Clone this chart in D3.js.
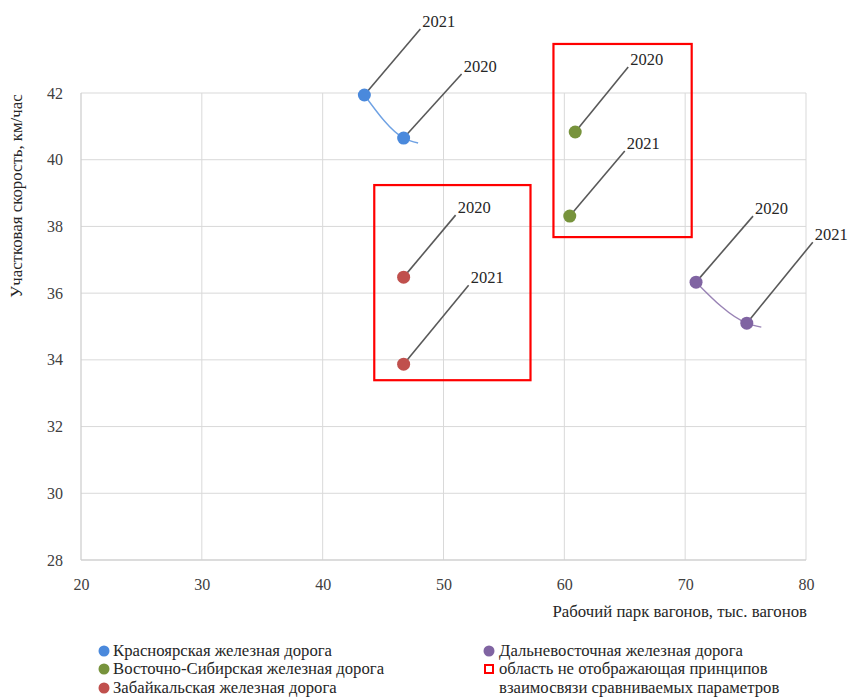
<!DOCTYPE html>
<html><head><meta charset="utf-8">
<script src="https://cdn.jsdelivr.net/npm/d3@7"></script>
<style>body{margin:0;background:#fff}svg{display:block}
svg text{font-family:"Liberation Serif","Times New Roman",Times,serif !important;}
</style>
</head><body>
<svg id="c" width="850" height="698"></svg>
<script>
// ---- data ----
const railways = ["Красноярская железная дорога","Восточно-Сибирская железная дорога","Забайкальская железная дорога","Дальневосточная железная дорога"];
const colors = ["#4A89DC","#77933C","#C0504D","#8064A2"];
const years = ["2020","2021"];
const park2020 = [46.7, 60.9, 46.7, 70.9];   // рабочий парк, тыс. вагонов
const park2021 = [43.45, 60.45, 46.7, 75.1];
const speed2020 = [40.65, 40.83, 36.48, 36.33]; // участковая скорость, км/ч
const speed2021 = [41.94, 38.31, 33.87, 35.1];
// trailing end of the smoothed connector lines (only for the two roads with curves)
const curveTail = [[47.9, 40.5], null, null, [76.3, 34.98]];
// red highlight areas [x0, x1, y0, y1] in data units
const areas = [[59.1, 70.54, 37.68, 43.47],[44.27, 57.2, 33.39, 39.24]];
const xTicks = [20,30,40,50,60,70,80];
const yTicks = [28,30,32,34,36,38,40,42];
const xTitle = "Рабочий парк вагонов, тыс. вагонов";
const yTitle = "Участковая скорость, км/час";
const areaLegend = ["область не отображающая принципов","взаимосвязи сравниваемых параметров"];
// leader-line offsets (px) for labels: [road][yearIndex] -> [dx, dy]
const labelOffsets = [[[58,-64],[56,-66]],[[53,-65],[55,-65]],[[52,-62],[65,-79]],[[57,-66],[66,-81]]];

const svg = d3.select("#c");
const font = "Liberation Serif";
const x = d3.scaleLinear().domain([20,80]).range([81,806]);
const y = d3.scaleLinear().domain([28,42]).range([560,93]);

// gridlines
svg.append("g").selectAll("line").data(yTicks.filter(d=>d>28)).join("line")
  .attr("x1",x(20)).attr("x2",x(80)).attr("y1",d=>y(d)).attr("y2",d=>y(d))
  .attr("stroke","#d9d9d9").attr("stroke-width",1);
svg.append("g").selectAll("line").data(xTicks.filter(d=>d>20)).join("line")
  .attr("x1",d=>x(d)).attr("x2",d=>x(d)).attr("y1",y(28)).attr("y2",y(42))
  .attr("stroke","#d9d9d9").attr("stroke-width",1);
// axes lines
svg.append("line").attr("x1",x(20)).attr("x2",x(20)).attr("y1",y(28)).attr("y2",y(42)).attr("stroke","#d0d0d0").attr("stroke-width",1.3);
svg.append("line").attr("x1",x(20)).attr("x2",x(80)).attr("y1",y(28)).attr("y2",y(28)).attr("stroke","#d0d0d0").attr("stroke-width",1.3);

// tick labels via axes
const xAxis = svg.append("g").attr("transform",`translate(0,${y(28)})`)
  .call(d3.axisBottom(x).tickValues(xTicks).tickSize(0).tickPadding(19));
const yAxis = svg.append("g").attr("transform",`translate(${x(20)},0)`)
  .call(d3.axisLeft(y).tickValues(yTicks).tickSize(0).tickPadding(18));
[xAxis,yAxis].forEach(a=>{
  a.select(".domain").remove();
  a.attr("font-family",font);
  a.selectAll("text").attr("font-size",16).attr("fill","#404040");
});

// axis titles
svg.append("text").attr("x",807).attr("y",617).attr("text-anchor","end")
  .attr("font-size",16.8).attr("fill","#262626").text(xTitle);
svg.append("text").attr("transform","translate(22,196) rotate(-90)").attr("text-anchor","middle")
  .attr("font-size",16.8).attr("fill","#262626").text(yTitle);

// red areas
svg.append("g").selectAll("rect").data(areas).join("rect")
  .attr("x",d=>x(d[0])).attr("y",d=>y(d[3])).attr("width",d=>x(d[1])-x(d[0])).attr("height",d=>y(d[2])-y(d[3]))
  .attr("fill","none").attr("stroke","#FF0000").attr("stroke-width",2.2);

// connector curves
const line = d3.line().x(d=>x(d[0])).y(d=>y(d[1])).curve(d3.curveMonotoneX);
railways.forEach((r,i)=>{
  if(!curveTail[i]) return;
  const pts = [[park2021[i],speed2021[i]],[park2020[i],speed2020[i]]];
  if(park2021[i] > park2020[i]) pts.reverse();
  pts.push(curveTail[i]);
  svg.append("path").attr("d",line(pts)).attr("fill","none")
    .attr("stroke",colors[i]).attr("stroke-opacity",0.8).attr("stroke-width",1.4);
});

// points, leaders, labels
const pts = [];
railways.forEach((r,i)=>{
  pts.push({i, yi:0, yr:years[0], px:park2020[i], sp:speed2020[i]});
  pts.push({i, yi:1, yr:years[1], px:park2021[i], sp:speed2021[i]});
});
const g = svg.append("g");
pts.forEach(p=>{
  const cx = x(p.px), cy = y(p.sp);
  const [dx,dy] = labelOffsets[p.i][p.yi];
  g.append("line").attr("x1",cx).attr("y1",cy).attr("x2",cx+dx).attr("y2",cy+dy)
    .attr("stroke","#595959").attr("stroke-width",1.6);
  g.append("text").attr("x",cx+dx+2).attr("y",cy+dy-2).attr("font-size",16.5)
    .attr("fill","#262626").text(p.yr);
});
g.selectAll("circle").data(pts).join("circle")
  .attr("cx",d=>x(d.px)).attr("cy",d=>y(d.sp)).attr("r",6.5).attr("fill",d=>colors[d.i]);

// legend
const lg = svg.append("g").attr("font-size",16.7).attr("fill","#262626");
const rowY = [651,669,688];
const leftItems = [0,1,2];
leftItems.forEach((k,j)=>{
  lg.append("circle").attr("cx",104).attr("cy",rowY[j]).attr("r",5.5).attr("fill",colors[k]);
  lg.append("text").attr("x",113).attr("y",rowY[j]+5).text(railways[k]);
});
lg.append("circle").attr("cx",489).attr("cy",rowY[0]).attr("r",5.5).attr("fill",colors[3]);
lg.append("text").attr("x",499).attr("y",rowY[0]+5).text(railways[3]);
lg.append("rect").attr("x",485).attr("y",rowY[1]-4).attr("width",8).attr("height",8)
  .attr("fill","#fff").attr("stroke","#FF0000").attr("stroke-width",2);
lg.append("text").attr("x",499).attr("y",rowY[1]+5).text(areaLegend[0]);
lg.append("text").attr("x",499).attr("y",rowY[2]+5).text(areaLegend[1]);
</script>
</body></html>
